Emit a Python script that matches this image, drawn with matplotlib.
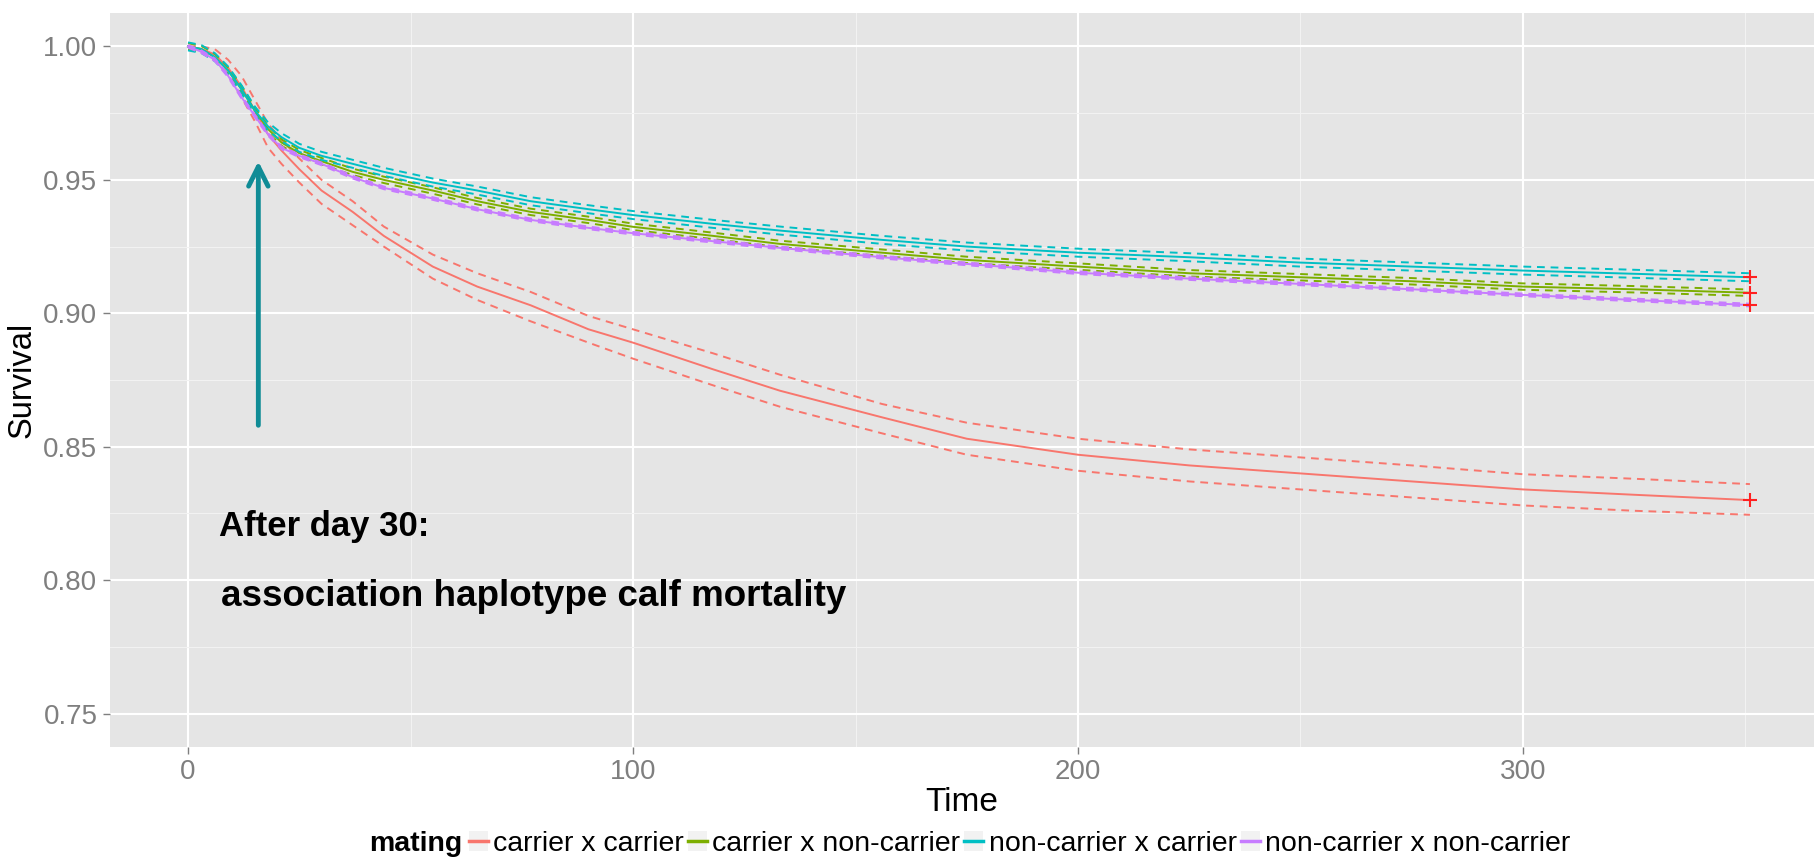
import numpy as np
import matplotlib
matplotlib.use('Agg')
import matplotlib.pyplot as plt
from matplotlib.patches import Rectangle
from matplotlib.legend_handler import HandlerTuple
from matplotlib.lines import Line2D

plt.rcParams['font.family'] = ['Liberation Sans', 'DejaVu Sans']

# tiempos (dias)
tiempo = [0, 3, 6, 9, 12, 15, 18, 21, 25, 30, 37, 44, 55, 65, 77, 90, 100,
          118, 133, 156, 175, 200, 225, 250, 275, 300, 325, 351]

# carrier x carrier
cc = [1.0, 0.999, 0.997, 0.992, 0.985, 0.976, 0.967, 0.961, 0.954, 0.946, 0.938, 0.929, 0.9175, 0.910,
      0.903, 0.894, 0.889, 0.879, 0.871, 0.861, 0.853, 0.847, 0.843, 0.840, 0.837, 0.834, 0.832, 0.830]
cc_sup = [1.0, 1.0, 0.999, 0.995, 0.989, 0.980, 0.971, 0.965, 0.958, 0.950, 0.942, 0.9325, 0.922, 0.915,
          0.908, 0.899, 0.894, 0.885, 0.877, 0.866, 0.859, 0.853, 0.849, 0.846, 0.843, 0.8397, 0.838, 0.836]
cc_inf = [1.0, 0.998, 0.995, 0.989, 0.981, 0.972, 0.962, 0.956, 0.949, 0.941, 0.933, 0.925, 0.913, 0.905,
          0.897, 0.889, 0.883, 0.873, 0.865, 0.855, 0.847, 0.841, 0.837, 0.834, 0.831, 0.828, 0.826, 0.8245]

# carrier x non-carrier
cn = [1.0, 0.999, 0.996, 0.991, 0.984, 0.976, 0.969, 0.964, 0.960, 0.957, 0.953, 0.950, 0.946, 0.942,
      0.938, 0.935, 0.9324, 0.929, 0.926, 0.9227, 0.920, 0.9175, 0.915, 0.9135, 0.912, 0.910, 0.909, 0.9077]
cn_ic = 0.0012

# non-carrier x carrier
nc = [1.0, 0.999, 0.996, 0.991, 0.984, 0.976, 0.970, 0.966, 0.962, 0.959, 0.956, 0.953, 0.949, 0.946,
      0.942, 0.939, 0.9368, 0.9335, 0.931, 0.9275, 0.925, 0.9227, 0.921, 0.919, 0.9175, 0.916, 0.9148, 0.9135]
nc_ic = 0.0015

# non-carrier x non-carrier
nn = [1.0, 0.998, 0.995, 0.989, 0.981, 0.974, 0.967, 0.962, 0.959, 0.956, 0.951, 0.947, 0.943, 0.939,
      0.935, 0.932, 0.930, 0.927, 0.9245, 0.921, 0.9185, 0.9152, 0.913, 0.911, 0.909, 0.9069, 0.905, 0.9031]
nn_ic = 0.0005

etiquetas = ['carrier x carrier', 'carrier x non-carrier', 'non-carrier x carrier', 'non-carrier x non-carrier']
colores = ['#F8766D', '#7CAE00', '#00BFC4', '#C77CFF']

t = np.array(tiempo)
curvas = [(np.array(cc), np.array(cc_sup), np.array(cc_inf)),
          (np.array(cn), np.array(cn) + cn_ic, np.array(cn) - cn_ic),
          (np.array(nc), np.array(nc) + nc_ic, np.array(nc) - nc_ic),
          (np.array(nn), np.array(nn) + nn_ic, np.array(nn) - nn_ic)]

fig = plt.figure(figsize=(18.14, 8.58), dpi=100)
ax = fig.add_axes([0.0606, 0.1294, 0.9394, 0.8554])
ax.set_facecolor('#E5E5E5')
for s in ax.spines.values():
    s.set_visible(False)

# rejilla estilo ggplot
ax.set_xticks([0, 100, 200, 300])
ax.set_xticks([50, 150, 250, 350], minor=True)
ax.set_yticks([0.75, 0.80, 0.85, 0.90, 0.95, 1.00])
ax.set_yticks([0.775, 0.825, 0.875, 0.925, 0.975], minor=True)
ax.grid(which='major', color='white', lw=1.5)
ax.grid(which='minor', color='#F2F2F2', lw=0.8)
ax.set_axisbelow(True)

for (s, sup, inf), col in zip(curvas, colores):
    ax.plot(t, s, color=col, lw=1.4)
    ax.plot(t, sup, color=col, lw=1.4, ls=(0, (4, 3)))
    ax.plot(t, inf, color=col, lw=1.4, ls=(0, (4, 3)))
    ax.plot(t[-1], s[-1], marker='+', color='#FF2020', ms=10, mew=1.5)

ax.set_xlim(-17.55, 365.4)
ax.set_ylim(0.7375, 1.0125)
ax.set_yticklabels(['0.75', '0.80', '0.85', '0.90', '0.95', '1.00'])
ax.tick_params(which='major', colors='#7F7F7F', labelsize=20, length=5, width=1, pad=4)
ax.tick_params(which='minor', length=0)
ax.set_xlabel('Time', fontsize=24, labelpad=1)
ax.set_ylabel('Survival', fontsize=23.5, labelpad=4)

# flecha y anotaciones
ax.annotate('', xy=(15.8, 0.958), xytext=(15.8, 0.857),
            arrowprops=dict(arrowstyle='->', color='#108C96', lw=3.5, mutation_scale=35))
ax.text(7.0, 0.820, 'After day 30:', fontsize=25, fontweight='bold', va='center')
ax.text(7.5, 0.7938, 'association haplotype calf mortality', fontsize=26.5, fontweight='bold', va='center')

# leyenda inferior con titulo a la izquierda
handles = []
for col in colores:
    fondo = Rectangle((0, 0), 1, 1, facecolor='#F2F2F2', edgecolor='none')
    linea = Line2D([], [], color=col, lw=2.5)
    handles.append((fondo, linea))
fig.text(0.2034, 0.016, 'mating', fontsize=20.5, fontweight='bold', va='center', ha='left')
fig.legend(handles, etiquetas, handler_map={tuple: HandlerTuple(ndivide=1, pad=0)},
           loc='center left', bbox_to_anchor=(0.2583, 0.016), ncol=4, frameon=False,
           fontsize=20.5, handlelength=0.67, handletextpad=0.19, columnspacing=0.14,
           borderpad=0, borderaxespad=0)

plt.savefig('out.png', dpi=100)
